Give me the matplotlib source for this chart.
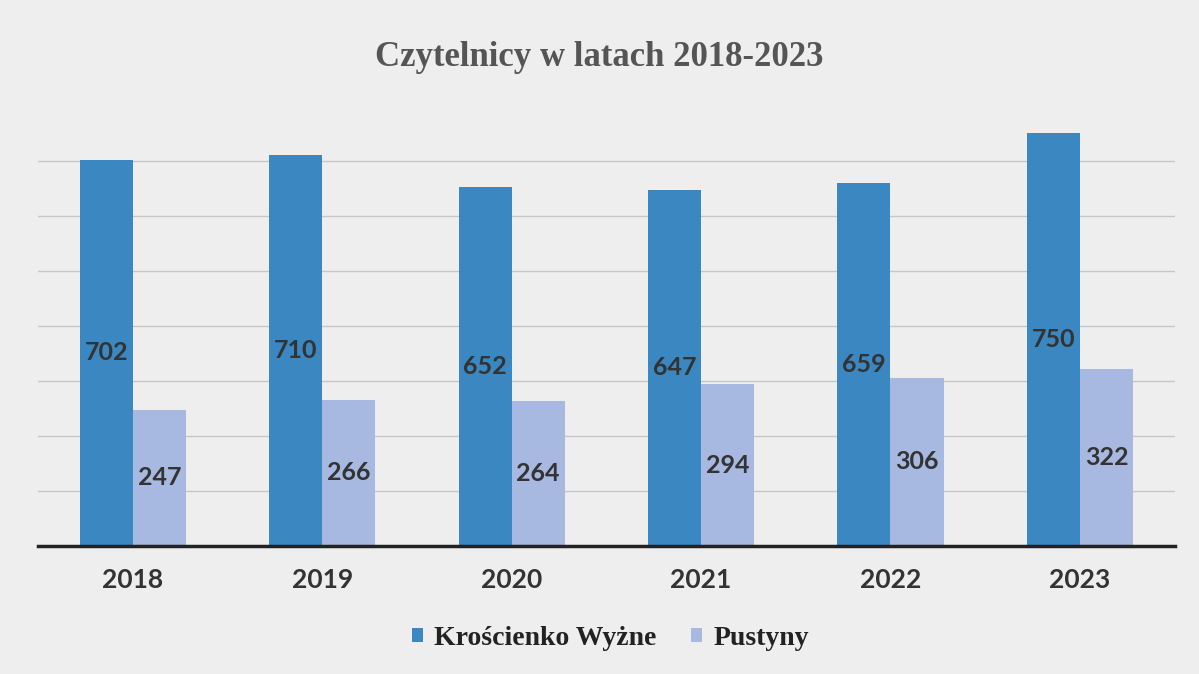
import matplotlib
matplotlib.use("Agg")
import matplotlib.pyplot as plt
import numpy as np

years = ["2018", "2019", "2020", "2021", "2022", "2023"]
kroscienko = [702, 710, 652, 647, 659, 750]
pustyny = [247, 266, 264, 294, 306, 322]
series_names = ["Krościenko Wyżne", "Pustyny"]
title = "Czytelnicy w latach 2018-2023"

c_blue = "#3a87c1"
c_light = "#a7b9e0"

fig = plt.figure(figsize=(11.99, 6.74), dpi=100)
fig.patch.set_facecolor("#eeeeee")
ax = fig.add_axes([0.0317, 0.19, 0.948, 0.653])
ax.set_facecolor("none")

x = np.arange(len(years))
w = 0.28
b1 = ax.bar(x - w / 2, kroscienko, width=w, color=c_blue, label=series_names[0], zorder=3)
b2 = ax.bar(x + w / 2, pustyny, width=w, color=c_light, label=series_names[1], zorder=3)

for bars, vals in ((b1, kroscienko), (b2, pustyny)):
    for r, v in zip(bars, vals):
        ax.text(r.get_x() + r.get_width() / 2, v / 2, str(v), ha="center", va="center",
                fontsize=18, fontweight="bold", family="Lato", color="#333333", zorder=4)

ax.set_xlim(-0.5, len(years) - 0.5)
ax.set_ylim(0, 800)
ax.set_yticks(np.arange(0, 701, 100))
ax.yaxis.grid(True, color="#c6c6c6", linewidth=1.0, zorder=0)
ax.tick_params(axis="y", left=False, labelleft=False)
ax.set_xticks(x)
ax.set_xticklabels(years, fontsize=19, fontweight="bold", family="Lato", color="#333333")
ax.tick_params(axis="x", length=0, pad=16)
for s in ("top", "right", "left"):
    ax.spines[s].set_visible(False)
ax.spines["bottom"].set_color("#222222")
ax.spines["bottom"].set_linewidth(2.5)
ax.spines["bottom"].set_zorder(5)

fig.text(0.5, 0.915, title, ha="center", va="center", fontsize=25, fontweight="bold",
         family="Liberation Serif", color="#555555")

leg = fig.legend(handles=[b1, b2], labels=series_names, loc="center", bbox_to_anchor=(0.509, 0.053),
                 ncol=2, frameon=False, handlelength=0.4, handleheight=0.4, handletextpad=0.4,
                 columnspacing=1.25, prop={"family": "Liberation Serif", "weight": "bold", "size": 20})
for t in leg.get_texts():
    t.set_color("#222222")

fig.savefig("out.png", dpi=100, facecolor=fig.get_facecolor())
